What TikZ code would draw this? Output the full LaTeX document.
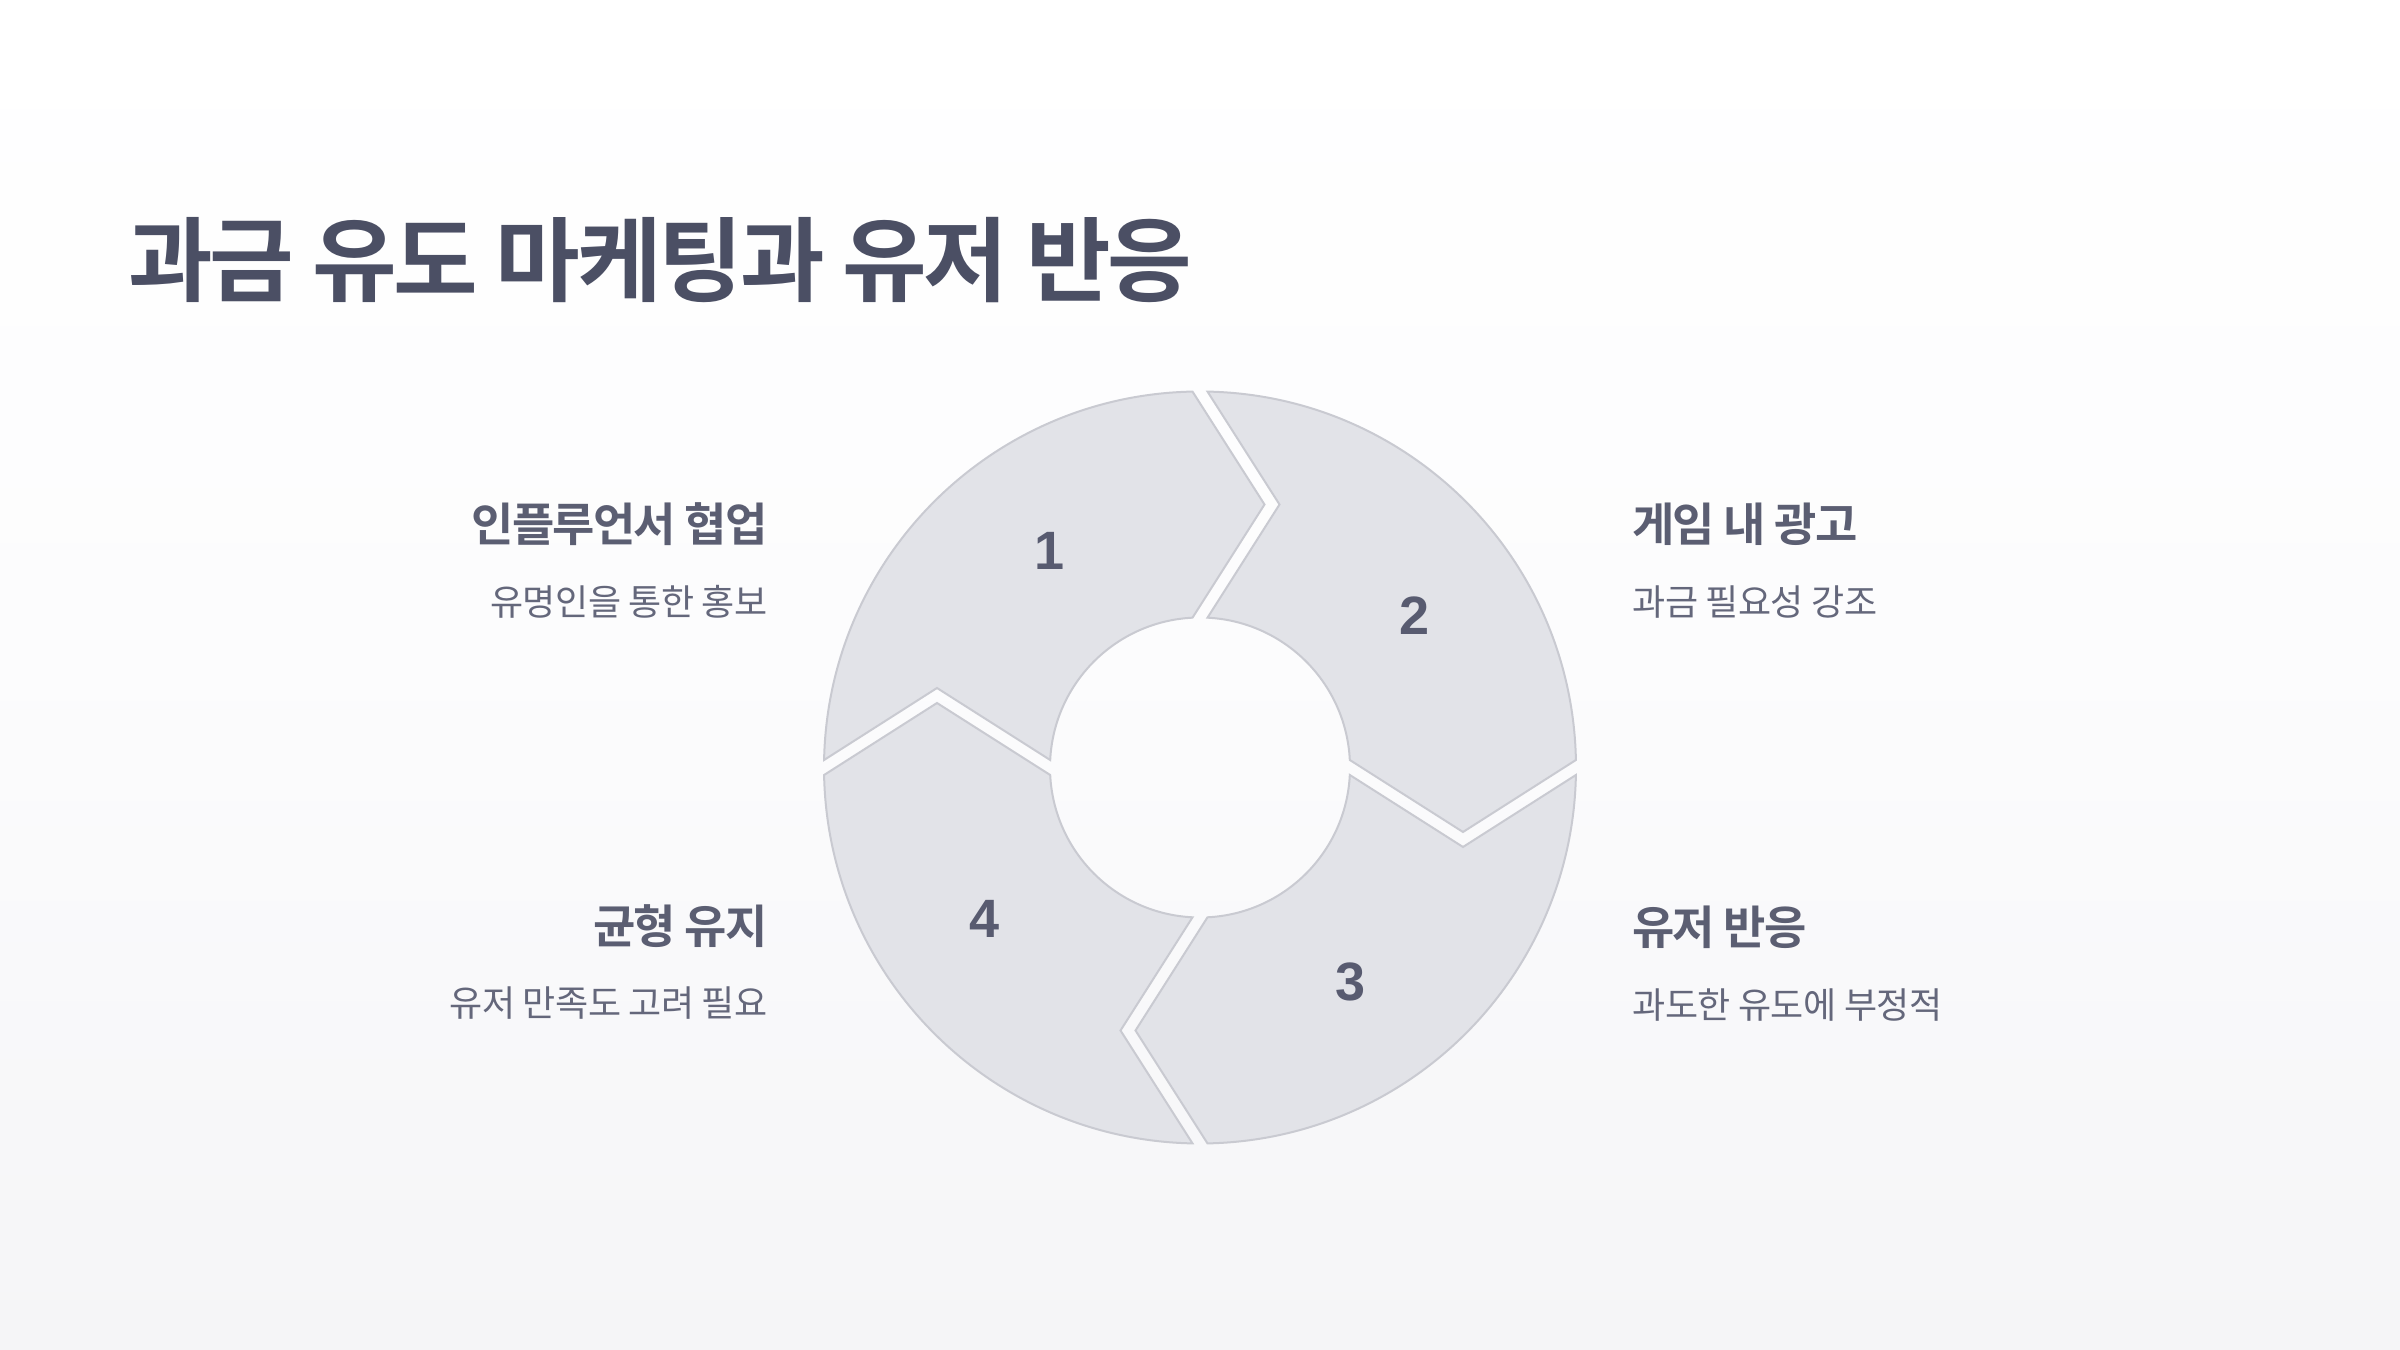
\documentclass[tikz,border=0pt]{standalone}
\usepackage{fontspec}
\newfontfamily\kr{Noto Sans CJK KR}[BoldFont={Noto Sans CJK KR Bold}]
\newfontfamily\krtitle{Noto Sans CJK KR Bold}[LetterSpace=-3.5]
\newfontfamily\krhead{Noto Sans CJK KR Bold}[LetterSpace=-4]
\newfontfamily\krsub{Noto Sans CJK KR}[LetterSpace=-1.5]
\newfontfamily\numfont{Liberation Sans}
\definecolor{bgmid}{HTML}{FCFCFD}
\definecolor{bgbot}{HTML}{F5F5F7}
\definecolor{segfill}{HTML}{E2E3E8}
\definecolor{segline}{HTML}{C9CAD1}
\definecolor{titlecol}{HTML}{4B4F64}
\definecolor{headcol}{HTML}{5B5E72}
\definecolor{subcol}{HTML}{64677B}
\definecolor{numcol}{HTML}{585B70}
\begin{document}
\begin{tikzpicture}[x=0.5pt,y=0.5pt,
  seg/.style={fill=segfill,draw=segline,line width=1pt},
  titletext/.style={inner sep=0pt,text=titlecol,font=\krtitle\fontsize{46pt}{52pt}\selectfont},
  headtext/.style={inner sep=0pt,text=headcol,font=\krhead\fontsize{23pt}{28pt}\selectfont},
  subtext/.style={inner sep=0pt,text=subcol,font=\krsub\fontsize{18pt}{22pt}\selectfont},
  numtext/.style={inner sep=0pt,text=numcol,font=\numfont\bfseries\fontsize{27pt}{32pt}\selectfont}]
\useasboundingbox (0,0) rectangle (2400,1350);
\fill[white] (0,0) rectangle (2400,1350);
\shade[top color=white,bottom color=bgmid] (0,700) rectangle (2400,1350);
\shade[top color=bgmid,bottom color=bgbot] (0,0) rectangle (2400,700);
\coordinate (C) at (1200,582.5);
\foreach \k in {0,1,2,3}{
  \begin{scope}[shift={(C)},rotate=-90*\k]
    \path[seg] (178.857:376) -- (-263,79.5) -- (177.134:150)
      arc[start angle=177.134,end angle=92.866,radius=150]
      -- (64.5,263) -- (91.143:376)
      arc[start angle=91.143,end angle=178.857,radius=376] -- cycle;
  \end{scope}
}
\node[numtext] (n1) at (1050,799) {1};
\node[numtext] (n2) at (1415,734) {2};
\node[numtext] (n3) at (1351,368) {3};
\node[numtext] (n4) at (985,431.5) {4};

\node[titletext,anchor=west] (title) at (128,1090) {과금 유도 마케팅과 유저 반응};

\node[headtext,anchor=east] (h1) at (768,825.5) {인플루언서 협업};
\node[subtext,anchor=east] (s1) at (768,748) {유명인을 통한 홍보};
\node[headtext,anchor=west] (h2) at (1632,825.5) {게임 내 광고};
\node[subtext,anchor=west] (s2) at (1632,748) {과금 필요성 강조};
\node[headtext,anchor=east] (h4) at (768,424) {균형 유지};
\node[subtext,anchor=east] (s4) at (768,346.5) {유저 만족도 고려 필요};
\node[headtext,anchor=west] (h3) at (1632,423) {유저 반응};
\node[subtext,anchor=west] (s3) at (1632,345) {과도한 유도에 부정적};
\end{tikzpicture}
\end{document}
